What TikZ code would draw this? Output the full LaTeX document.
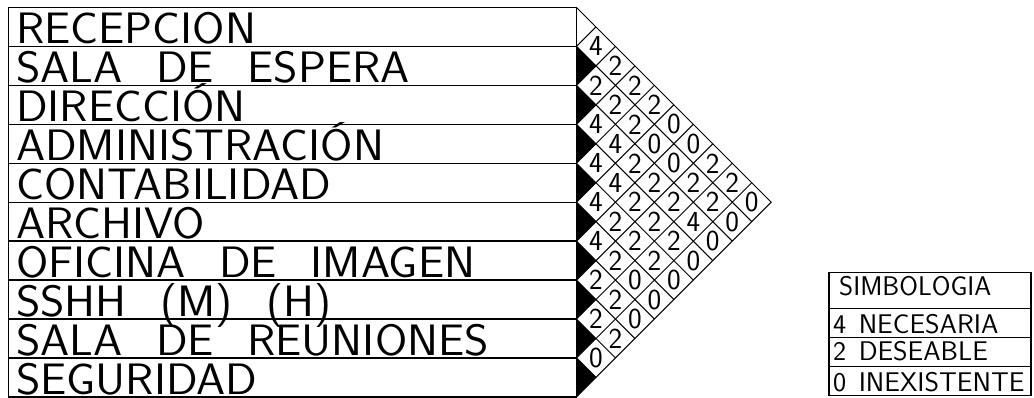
\documentclass[tikz,border=0pt]{standalone}
\usepackage{fontspec}
\usepackage{graphicx}
\usepackage{tikz}
\newcommand{\rh}{38.94}
\newcommand{\hx}{576.5}
\newcommand{\widesp}{\spaceskip=0.72em\relax}
\newcommand{\cadtxt}[1]{\scalebox{1.06}[1]{\widesp #1}}

\begin{document}
\begin{tikzpicture}[x=1pt,y=-1pt,font=\sffamily,
  lbl/.style={anchor=base west,inner sep=0pt,font=\sffamily\fontsize{44}{44}\selectfont},
  val/.style={inner sep=0pt,font=\sffamily\fontsize{29}{29}\selectfont},
  leg/.style={anchor=base west,inner sep=0pt,font=\sffamily\fontsize{27}{27}\selectfont},
  tbl/.style={line width=1.3pt},
  cell/.style={line width=1pt}]
\useasboundingbox (0,0) rectangle (1034,398);
\foreach \lbl [count=\i] in {RECEPCION,SALA DE ESPERA,DIRECCIÓN,ADMINISTRACIÓN,CONTABILIDAD,ARCHIVO,OFICINA DE IMAGEN,{SSHH (M) (H)},SALA DE REUNIONES,SEGURIDAD}
  \node[lbl] (r\i) at (16,{7.5+\i*\rh-2.5}) {\cadtxt{\lbl}};
\draw[tbl] (8.5,7.5) rectangle (\hx,{7.5+10*\rh});
\foreach \i in {1,...,9}
  \draw[tbl] (8.5,{7.5+\i*\rh}) -- (\hx,{7.5+\i*\rh});
\foreach \i in {2,...,10}
  \fill (\hx,{7.5+(\i-1)*\rh}) -- ++({\rh/2},{\rh/2}) -- ++({-\rh/2},{\rh/2}) -- cycle;
\draw[cell] (\hx,7.5) -- ({\hx+5*\rh},{7.5+5*\rh}) -- (\hx,{7.5+10*\rh});
\foreach \k in {1,...,9} {
  \draw[cell] (\hx,{7.5+\k*\rh}) -- ++({(10-\k)*\rh/2},{(10-\k)*\rh/2});
  \draw[cell] (\hx,{7.5+\k*\rh}) -- ++({\k*\rh/2},{-\k*\rh/2});
}
\foreach \i/\vals in {1/{4,2,2,2,0,0,2,2,0},2/{2,2,2,0,0,2,2,0},3/{4,4,2,2,2,4,0},4/{4,4,2,2,2,0},5/{4,2,2,2,0},6/{4,2,0,0},7/{2,2,0},8/{2,2},9/{0}}
  \foreach \v [count=\d, evaluate=\d as \j using int(\i+\d)] in \vals
    \node[val] (p\i-\j) at ({\hx+\d*\rh/2},{7.5+(2*\i+\d-1)*\rh/2}) {\v};
\draw[tbl] (829,272.5) rectangle (1031,395.5);
\foreach \y in {308.5,337.5,366.5}
  \draw[tbl] (829,\y) -- (1031,\y);
\node[leg] (simb) at (839,295) {SIMBOLOGIA};
\node[leg] (nec) at (833,333) {\scalebox{1.03}[1]{\spaceskip=0.45em 4 NECESARIA}};
\node[leg] (des) at (833,360.5) {\scalebox{1.03}[1]{\spaceskip=0.45em 2 DESEABLE}};
\node[leg] (inex) at (833,391.5) {\scalebox{1.03}[1]{\spaceskip=0.45em 0 INEXISTENTE}};
\end{tikzpicture}
\end{document}
